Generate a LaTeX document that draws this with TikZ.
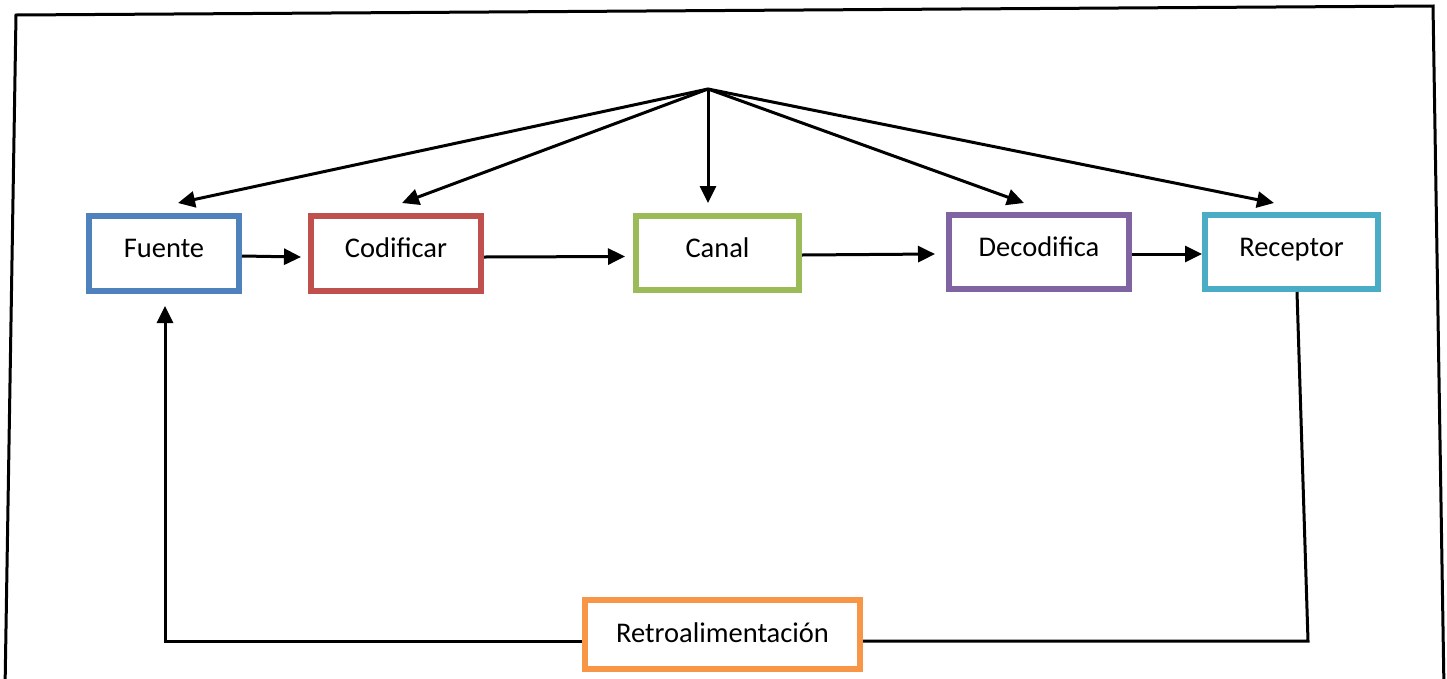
\documentclass[tikz,border=0pt]{standalone}
\usepackage{fontspec}
\setmainfont{Carlito}
\usetikzlibrary{arrows.meta}
\definecolor{cblue}{HTML}{4F81BD}
\definecolor{cred}{HTML}{C0504D}
\definecolor{cgreen}{HTML}{9BBB59}
\definecolor{cpurple}{HTML}{8064A2}
\definecolor{cteal}{HTML}{4BACC6}
\definecolor{corange}{HTML}{F79646}
\begin{document}
\begin{tikzpicture}[x=1pt,y=-1pt,
  boxnode/.style={draw=#1, line width=6pt, fill=white, inner sep=0pt,
    font=\fontsize{28.5}{32}\selectfont, text height=18pt, text depth=10pt},
  arr/.style={line width=3pt, -{Triangle[length=17pt,width=16pt]}},
  plainline/.style={line width=3pt},
  framestyle/.style={line width=3pt}]
\useasboundingbox (0,0) rectangle (1447,678);
\draw[framestyle] (5,690) -- (16,15) -- (1433,6) -- (1444,690);
\node[boxnode=cblue, minimum width=150pt, minimum height=75pt] (fuente) at (164,253.5) {Fuente};
\node[boxnode=cred, minimum width=170pt, minimum height=75pt] (codificar) at (396,253.5) {Codificar};
\node[boxnode=cgreen, minimum width=163pt, minimum height=74pt] (canal) at (717.5,253) {Canal};
\node[boxnode=cpurple, minimum width=180pt, minimum height=74pt] (decodifica) at (1039,252) {Decodifica};
\node[boxnode=cteal, minimum width=173pt, minimum height=74pt] (receptor) at (1291.5,252) {Receptor};
\node[boxnode=corange, minimum width=275pt, minimum height=69pt, text height=18pt, text depth=2pt] (retro) at (722.5,634.5) {Retroalimentación};
\coordinate (apex) at (708,89);
\coordinate (rdown) at (1308,641);
\coordinate (lcorner) at (165,641);
% arrows from apex
\draw[arr] (apex) -- ([xshift=14pt,yshift=10pt]fuente.north);
\draw[arr] (apex) -- ([xshift=6pt,yshift=10pt]codificar.north);
\draw[arr] (apex) -- ([xshift=-9.5pt,yshift=10pt]canal.north);
\draw[arr] (apex) -- ([xshift=-15pt,yshift=9pt]decodifica.north);
\draw[arr] (apex) -- ([xshift=-17.5pt,yshift=9pt]receptor.north);
% horizontal arrows
\draw[arr] ([yshift=-2.5pt]fuente.east) -- ([xshift=-7pt,yshift=-3.5pt]codificar.west);
\draw[arr] ([yshift=-3.5pt]codificar.east) -- ([xshift=-8pt,yshift=-3.5pt]canal.west);
\draw[arr] ([yshift=-2pt]canal.east) -- ([xshift=-11pt,yshift=-2pt]decodifica.west);
\draw[arr] ([yshift=-2pt]decodifica.east) -- ([yshift=-2pt]receptor.west);
% feedback
\draw[plainline] ([xshift=5.5pt]receptor.south) -- (rdown) -- (rdown -| retro.east);
\draw[arr] (lcorner -| retro.west) -- (lcorner) -- ([xshift=1pt,yshift=-12pt]fuente.south);
\end{tikzpicture}
\end{document}
